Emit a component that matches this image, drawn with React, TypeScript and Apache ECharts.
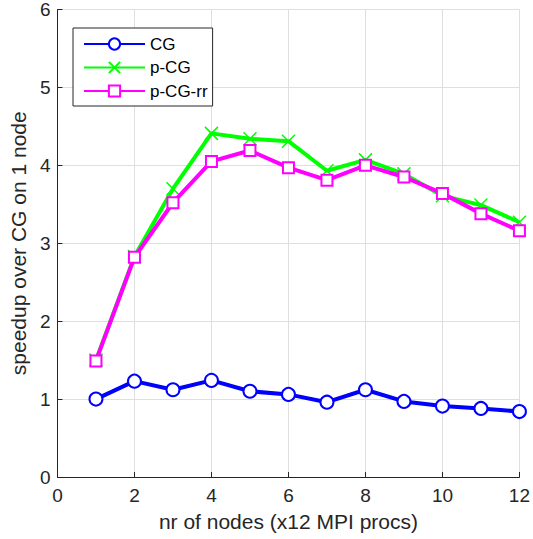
import { useEffect, useRef } from "react";
import * as echarts from "echarts";

const nodes = [1, 2, 3, 4, 5, 6, 7, 8, 9, 10, 11, 12];
const cg = [1.0, 1.23, 1.12, 1.24, 1.1, 1.06, 0.96, 1.12, 0.97, 0.91, 0.88, 0.84];
const pcg = [1.5, 2.83, 3.7, 4.41, 4.34, 4.31, 3.93, 4.07, 3.89, 3.61, 3.49, 3.27];
const pcgRr = [1.49, 2.82, 3.52, 4.05, 4.19, 3.97, 3.81, 4.0, 3.85, 3.64, 3.38, 3.16];

const FONT = "'Liberation Sans', Arial, Helvetica, sans-serif";
const INK = "#262626";
const CROSS = "path://M0,0L10,10M10,0L0,10";

const pairs = (ys: number[]) => nodes.map((x, i) => [x, ys[i]]);

export default function App() {
  const chartRef = useRef<HTMLDivElement>(null);

  useEffect(() => {
    document.body.style.margin = "0";
    if (!chartRef.current) return;
    const chart = echarts.init(chartRef.current, null, { renderer: "svg" });

    const option: echarts.EChartsOption = {
      animation: false,
      backgroundColor: "#ffffff",
      textStyle: { fontFamily: FONT, color: INK },
      grid: { left: 53, right: 11, top: 9, bottom: 62, containLabel: false },
      legend: {
        orient: "vertical",
        left: 73,
        top: 28,
        padding: [6, 5, 5, 10],
        itemGap: 3.5,
        itemWidth: 61,
        itemHeight: 14,
        borderColor: INK,
        borderWidth: 1,
        backgroundColor: "#ffffff",
        textStyle: { fontFamily: FONT, fontSize: 17, lineHeight: 20, color: "#000000" },
        data: ["CG", "p-CG", "p-CG-rr"],
      },
      xAxis: {
        type: "value",
        min: 0,
        max: 12,
        interval: 2,
        name: "nr of nodes (x12 MPI procs)",
        nameLocation: "middle",
        nameGap: 34,
        nameTextStyle: { fontFamily: FONT, fontSize: 21, color: INK },
        axisLine: { show: true, onZero: false, lineStyle: { color: INK, width: 1 } },
        axisTick: { show: true, inside: true, length: 5, lineStyle: { color: INK } },
        axisLabel: { fontFamily: FONT, fontSize: 19, color: INK, margin: 9 },
        splitLine: { show: true, lineStyle: { color: "#dfdfdf", width: 1 } },
      },
      yAxis: {
        type: "value",
        min: 0,
        max: 6,
        interval: 1,
        name: "speedup over CG on 1 node",
        nameLocation: "middle",
        nameGap: 26,
        nameTextStyle: { fontFamily: FONT, fontSize: 21, color: INK },
        axisLine: { show: true, onZero: false, lineStyle: { color: INK, width: 1 } },
        axisTick: { show: true, inside: true, length: 5, lineStyle: { color: INK } },
        axisLabel: { fontFamily: FONT, fontSize: 19, color: INK, margin: 7 },
        splitLine: { show: true, lineStyle: { color: "#dfdfdf", width: 1 } },
      },
      series: [
        {
          name: "CG",
          type: "line",
          data: pairs(cg),
          symbol: "emptyCircle",
          symbolSize: 13,
          lineStyle: { color: "#0000ff", width: 4 },
          itemStyle: { color: "#0000ff", borderColor: "#0000ff", borderWidth: 1.5 },
          z: 2,
        },
        {
          name: "p-CG",
          type: "line",
          data: pairs(pcg),
          symbol: CROSS,
          symbolSize: 13,
          lineStyle: { color: "#00ff00", width: 4 },
          itemStyle: { color: "#00ff00", borderColor: "#00ff00", borderWidth: 1.5 },
          z: 3,
        },
        {
          name: "p-CG-rr",
          type: "line",
          data: pairs(pcgRr),
          symbol: "emptyRect",
          symbolSize: 11,
          lineStyle: { color: "#ff00ff", width: 4 },
          itemStyle: { color: "#ff00ff", borderColor: "#ff00ff", borderWidth: 1.5 },
          z: 4,
        },
      ],
    };

    chart.setOption(option);
    return () => chart.dispose();
  }, []);

  return <div ref={chartRef} style={{ width: 533, height: 539 }} />;
}
